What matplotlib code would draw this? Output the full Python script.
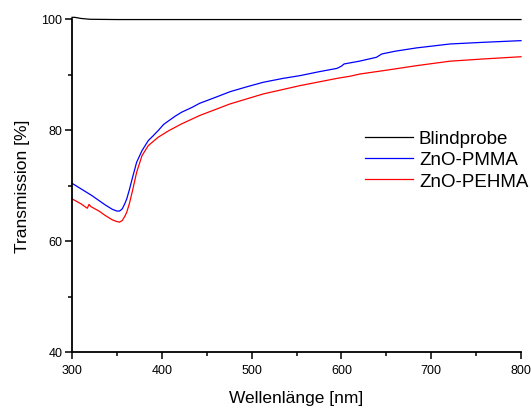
import matplotlib
matplotlib.use("Agg")
import matplotlib.pyplot as plt
from matplotlib.ticker import MultipleLocator

plt.rcParams['font.family'] = ['Liberation Sans', 'DejaVu Sans']

# Transmission spectra (wavelength in nm, transmission in %)
wl_blank = [300, 303, 310, 320, 350, 400, 450, 500, 550, 600, 650, 700, 750, 800]
t_blank = [100.3, 100.3, 100.1, 99.95, 99.9, 99.9, 99.9, 99.9, 99.9, 99.9, 99.9, 99.9, 99.9, 99.9]

wl_pmma = [300, 310, 322, 337, 345, 350, 353, 356, 359, 361, 364, 367, 372, 378,
           385, 390, 396, 402, 408, 415, 422, 434, 442, 460, 476, 495, 513, 535,
           554, 575, 595, 600, 603, 620, 639, 645, 660, 684, 700, 721, 758, 800]
t_pmma = [70.4, 69.4, 68.2, 66.5, 65.7, 65.4, 65.4, 65.8, 66.8, 67.6, 69.3, 71.2, 74.2, 76.3,
          78.1, 78.9, 79.9, 81.0, 81.7, 82.5, 83.2, 84.1, 84.8, 85.9, 86.9, 87.8, 88.6, 89.3,
          89.8, 90.5, 91.1, 91.5, 91.9, 92.4, 93.1, 93.7, 94.2, 94.8, 95.1, 95.5, 95.8, 96.1]

wl_pehma = [300, 310, 317, 319, 321, 330, 337, 345, 350, 353, 356, 359, 361, 364,
            367, 372, 378, 385, 396, 408, 422, 434, 442, 476, 513, 554, 595, 610,
            621, 647, 684, 721, 758, 800]
t_pehma = [67.6, 66.7, 65.9, 66.6, 66.2, 65.4, 64.6, 63.8, 63.5, 63.4, 63.7, 64.5, 65.2, 66.8,
           68.8, 72.4, 75.4, 77.2, 78.7, 79.9, 81.1, 82.0, 82.6, 84.7, 86.5, 88.0, 89.3, 89.7,
           90.1, 90.7, 91.6, 92.4, 92.8, 93.2]

labels = ["Blindprobe", "ZnO-PMMA", "ZnO-PEHMA"]
colors = ["black", "#0000ff", "#ff0000"]

fig = plt.figure(figsize=(5.31, 4.10), dpi=100)
ax = fig.add_axes([72 / 531, 1 - 353 / 410, (521 - 72) / 531, (353 - 20) / 410])

for x, y, lab, c in zip([wl_blank, wl_pmma, wl_pehma], [t_blank, t_pmma, t_pehma], labels, colors):
    ax.plot(x, y, color=c, lw=0.9, label=lab, clip_on=False)

ax.set_xlim(300, 800)
ax.set_ylim(40, 100)
ax.xaxis.set_major_locator(MultipleLocator(100))
ax.xaxis.set_minor_locator(MultipleLocator(50))
ax.yaxis.set_major_locator(MultipleLocator(20))
ax.yaxis.set_minor_locator(MultipleLocator(10))

for side in ("top", "right"):
    ax.spines[side].set_visible(False)
for side in ("left", "bottom"):
    ax.spines[side].set_linewidth(1.3)

ax.tick_params(which="major", direction="out", length=5, width=1.1, labelsize=9)
ax.tick_params(axis="x", which="major", pad=4)
ax.tick_params(axis="y", which="major", pad=2)
ax.tick_params(which="minor", direction="out", length=3, width=1.1)

ax.set_xlabel("Wellenlänge [nm]", fontsize=12.5, labelpad=10)
ax.set_ylabel("Transmission [%]", fontsize=12.5, labelpad=8)

leg = ax.legend(loc="upper left", bbox_to_anchor=(365 / 531, 1 - 131 / 410),
                bbox_transform=fig.transFigure, frameon=False, fontsize=13.5,
                handlelength=2.56, handletextpad=0.32, labelspacing=0.22,
                borderpad=0, borderaxespad=0)

fig.savefig("out.png", dpi=100)
